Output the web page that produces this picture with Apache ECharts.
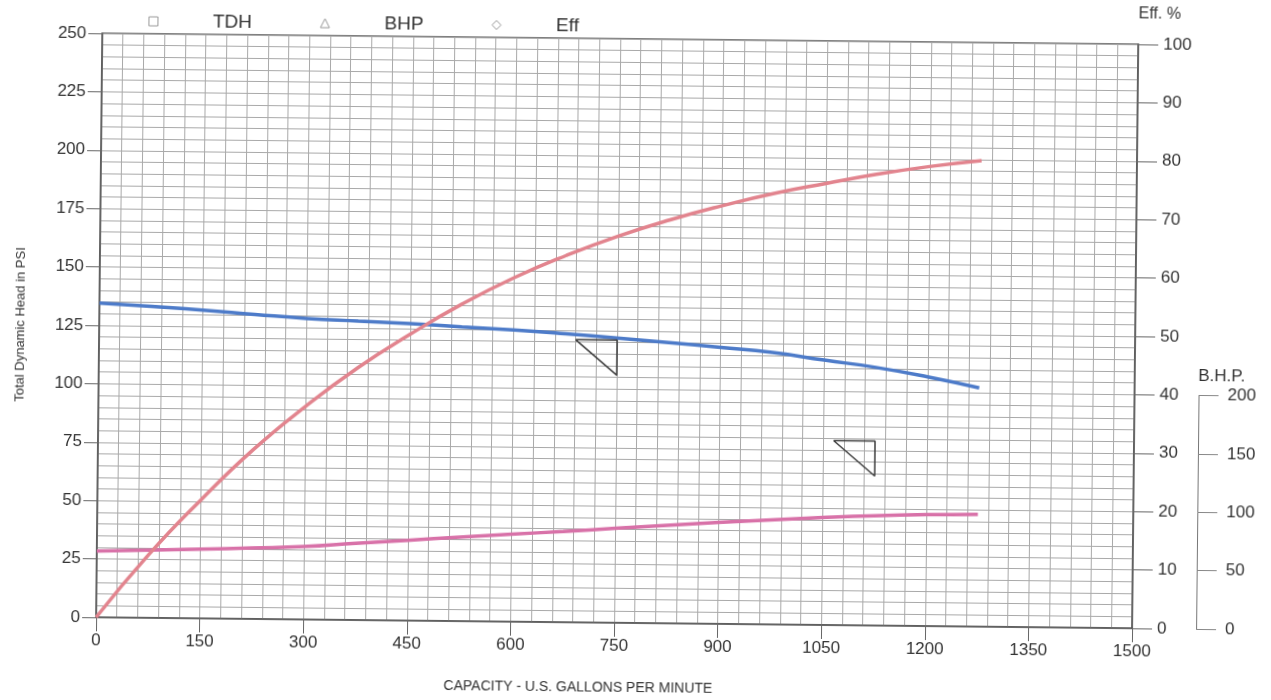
<!DOCTYPE html>
<html>
<head>
<meta charset="utf-8">
<script src="https://cdn.jsdelivr.net/npm/echarts@6/dist/echarts.min.js"></script>
<style>
  html, body { margin: 0; padding: 0; background: #fff; }
  /* the scanned sheet sits slightly tilted */
  #chart { width: 1271px; height: 700px; transform: rotate(0.607deg); transform-origin: 50% 50%; }
</style>
</head>
<body>
<div id="chart"></div>
<script>
// capacity in US gpm
const capacity = [0, 75, 150, 225, 300, 375, 450, 525, 600, 675, 750, 825, 900, 975, 1050, 1125, 1200, 1275];
// total dynamic head, psi
const tdh = [134.5, 133.3, 132.0, 130.4, 128.9, 128.0, 127.1, 126.0, 124.9, 123.5, 121.9, 120.2, 118.4, 116.4, 113.4, 110.5, 106.7, 102.2];
// brake horsepower
const bhp = [56.8, 58.0, 59.3, 60.8, 62.5, 65.8, 68.8, 71.9, 74.9, 77.8, 80.9, 84.0, 86.9, 89.6, 92.0, 94.0, 95.4, 96.2];
// efficiency, %
const eff = [0, 10.8, 20.3, 29.0, 36.5, 43.2, 49.0, 54.3, 58.9, 62.8, 66.2, 69.1, 71.6, 73.8, 75.6, 77.3, 78.7, 79.8];

// hand drawn triangles on the sheet (gpm, psi)
const triangleA = [[690, 121], [750, 121], [750, 106], [690, 121]];
const triangleB = [[1065, 79], [1125, 79], [1125, 64], [1065, 79]];

const legendNames = ['TDH', 'BHP', 'Eff'];
const legendIcons = ['rect', 'triangle', 'diamond'];

const FONT = 'Liberation Sans';
const TEXT = '#333';
const GRIDLINE = '#a9a9a9';
const FRAME = '#555';

function pairs(xs, ys) {
    return xs.map((x, i) => [x, ys[i]]);
}

const plain = v => String(v);

const chart = echarts.init(document.getElementById('chart'));

const option = {
    animation: false,
    backgroundColor: '#fff',
    textStyle: { fontFamily: FONT, color: TEXT },
    legend: {
        left: 140,
        top: 12,
        itemWidth: 9,
        itemHeight: 9,
        itemGap: 68,
        textStyle: { fontSize: 19, color: TEXT, padding: [0, 0, 0, 50] },
        data: legendNames.map((n, i) => ({
            name: n,
            icon: legendIcons[i],
            itemStyle: { color: 'transparent', borderColor: '#999', borderWidth: 1 }
        }))
    },
    grid: [
        { left: 99, right: 136, top: 39, bottom: 77, show: true, borderColor: FRAME, borderWidth: 1.5 },
        { left: 99, right: 136, bottom: 77, height: 233.5 }
    ],
    xAxis: [
        {
            type: 'value', gridIndex: 0, min: 0, max: 1500, interval: 150,
            name: 'CAPACITY - U.S. GALLONS PER MINUTE',
            nameLocation: 'middle', nameGap: 58,
            nameTextStyle: { fontSize: 14, color: TEXT, padding: [0, 71, 0, 0] },
            axisLine: { onZero: false, lineStyle: { color: FRAME, width: 1.5 } },
            axisTick: { length: 14, lineStyle: { color: '#666' } },
            axisLabel: { fontSize: 17, color: TEXT, margin: 15, formatter: plain },
            splitLine: { lineStyle: { color: GRIDLINE, width: 1 } },
            minorTick: { show: false, splitNumber: 5 },
            minorSplitLine: { show: true, lineStyle: { color: GRIDLINE, width: 1 } }
        },
        { type: 'value', gridIndex: 1, min: 0, max: 1500, show: false }
    ],
    yAxis: [
        {
            type: 'value', gridIndex: 0, position: 'left', min: 0, max: 250, interval: 25,
            name: 'Total Dynamic Head in PSI',
            nameLocation: 'middle', nameGap: 72, nameRotate: 90,
            nameTextStyle: { fontSize: 13, color: TEXT },
            axisLine: { show: true, onZero: false, lineStyle: { color: FRAME, width: 1.5 } },
            axisTick: { show: true, length: 14, lineStyle: { color: '#666' } },
            axisLabel: { fontSize: 17, color: TEXT, margin: 16, formatter: plain },
            splitLine: { lineStyle: { color: GRIDLINE, width: 1 } },
            minorTick: { show: false, splitNumber: 5 },
            minorSplitLine: { show: true, lineStyle: { color: GRIDLINE, width: 1 } }
        },
        {
            type: 'value', gridIndex: 0, position: 'right', min: 0, max: 100, interval: 10,
            name: 'Eff. %',
            nameLocation: 'end', nameGap: 22,
            nameTextStyle: { fontSize: 16, color: TEXT, align: 'left' },
            axisLine: { show: true, onZero: false, lineStyle: { color: FRAME, width: 1.5 } },
            axisTick: { show: true, length: 20, lineStyle: { color: '#666' } },
            axisLabel: { fontSize: 17, color: TEXT, margin: 25, formatter: plain },
            splitLine: { show: false }
        },
        {
            type: 'value', gridIndex: 1, position: 'right', offset: 64, min: 0, max: 200, interval: 50,
            name: 'B.H.P.',
            nameLocation: 'end', nameGap: 11,
            nameTextStyle: { fontSize: 17, color: TEXT, align: 'center', padding: [0, 0, 0, 46] },
            axisLine: { show: true, onZero: false, lineStyle: { color: '#777', width: 1 } },
            axisTick: { show: true, length: 20, lineStyle: { color: '#888' } },
            axisLabel: { fontSize: 17, color: TEXT, margin: 29, formatter: plain },
            splitLine: { show: false }
        }
    ],
    series: [
        {
            name: 'TDH', type: 'line', xAxisIndex: 0, yAxisIndex: 0,
            data: pairs(capacity, tdh), smooth: true, showSymbol: false, symbol: 'none',
            lineStyle: { color: '#4d7bc9', width: 3.5 }, itemStyle: { color: '#4d7bc9' }
        },
        {
            name: 'BHP', type: 'line', xAxisIndex: 1, yAxisIndex: 2,
            data: pairs(capacity, bhp), smooth: true, showSymbol: false, symbol: 'none',
            lineStyle: { color: '#d871a8', width: 3.5 }, itemStyle: { color: '#d871a8' }
        },
        {
            name: 'Eff', type: 'line', xAxisIndex: 0, yAxisIndex: 1,
            data: pairs(capacity, eff), smooth: true, showSymbol: false, symbol: 'none',
            lineStyle: { color: '#e2848e', width: 3.5 }, itemStyle: { color: '#e2848e' }
        },
        {
            name: 'markA', type: 'line', xAxisIndex: 0, yAxisIndex: 0, silent: true,
            data: triangleA, symbol: 'none', lineStyle: { color: '#3d3d3d', width: 1.5 }
        },
        {
            name: 'markB', type: 'line', xAxisIndex: 0, yAxisIndex: 0, silent: true,
            data: triangleB, symbol: 'none', lineStyle: { color: '#3d3d3d', width: 1.5 }
        }
    ]
};

chart.setOption(option);
</script>
</body>
</html>
